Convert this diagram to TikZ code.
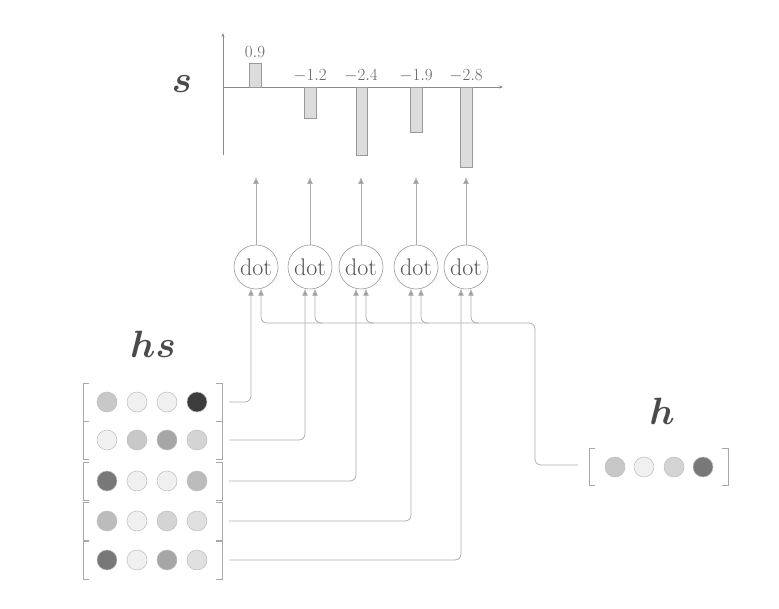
\RequirePackage{fix-cm}
\documentclass[tikz,border=0pt]{standalone}
\usepackage{amsmath,bm}
\usetikzlibrary{arrows.meta}
\definecolor{textgray}{HTML}{555555}
\definecolor{labgray}{HTML}{666666}
\definecolor{titlegray}{HTML}{4A4A4A}
\definecolor{linegray}{HTML}{AEAEAE}
\definecolor{tipgray}{HTML}{9A9A9A}
\definecolor{axisgray}{HTML}{8A8A8A}
\definecolor{bargray}{HTML}{999999}
\definecolor{barfill}{HTML}{DCDCDC}
\definecolor{ballborder}{HTML}{BDBDBD}
\definecolor{brgray}{HTML}{A8A8A8}
\definecolor{cA}{HTML}{C8C8C8}
\definecolor{cB}{HTML}{F0F0F0}
\definecolor{cC}{HTML}{D4D4D4}
\definecolor{cD}{HTML}{A6A6A6}
\definecolor{cE}{HTML}{787878}
\definecolor{cF}{HTML}{3C3C3C}
\definecolor{cG}{HTML}{BCBCBC}
\definecolor{cH}{HTML}{E0E0E0}
\begin{document}
\begin{tikzpicture}[x=1pt,y=-1pt,
  conn/.style={draw=linegray, line width=0.8pt, rounded corners=6pt},
  arr/.style={conn, -{Latex[length=7pt,width=6pt,fill=tipgray]}},
  axis/.style={draw=axisgray, line width=0.6pt, -{Stealth[length=4pt,width=3pt]}},
  dotnode/.style={circle, draw=tipgray, line width=0.6pt, minimum size=44pt, inner sep=0pt,
     font=\fontsize{24}{26}\selectfont, text=textgray},
  ball/.style={circle, draw=ballborder, line width=0.5pt, minimum size=20pt, inner sep=0pt},
  bar/.style={draw=bargray, fill=barfill, line width=0.6pt},
  vallab/.style={text=labgray, font=\fontsize{17}{19}\selectfont, inner sep=0pt},
  title/.style={text=titlegray, font=\fontsize{38}{42}\selectfont, inner sep=0pt},
  brack/.style={draw=brgray, line width=0.7pt}
]
\useasboundingbox (0,0) rectangle (779,609);

% ---- bar chart ----
\draw[axis] (223,155) -- (223,33);
\draw[axis] (223,87) -- (503,87);
\draw[bar] (249,63) rectangle (261,87);
\draw[bar] (304,87) rectangle (316,118);
\draw[bar] (356,87) rectangle (367,155);
\draw[bar] (410,87) rectangle (422,132);
\draw[bar] (460,87) rectangle (472,167);
\node[vallab] (v1) at (255,52) {$0.9$};
\node[vallab] (v2) at (310,76) {$-1.2$};
\node[vallab] (v3) at (361,76) {$-2.4$};
\node[vallab] (v4) at (416,76) {$-1.9$};
\node[vallab] (v5) at (466,76) {$-2.8$};
\node[title] (slab) at (182,84) {$\boldsymbol{s}$};

% ---- dot nodes ----
\node[dotnode] (d1) at (256,267) {dot};
\node[dotnode] (d2) at (310,267) {dot};
\node[dotnode] (d3) at (361,267) {dot};
\node[dotnode] (d4) at (416,267) {dot};
\node[dotnode] (d5) at (466,267) {dot};
\coordinate (t1) at (256,177);
\coordinate (t2) at (310,177);
\coordinate (t3) at (361,177);
\coordinate (t4) at (416,177);
\coordinate (t5) at (466,177);
\foreach \i in {1,...,5} { \draw[arr] (d\i.north) -- (t\i); }

% ---- hs matrix ----
\node[title] (hslab) at (153,344) {$\boldsymbol{hs}$};
\foreach \y/\a/\b/\c/\d [count=\k] in {402/cA/cB/cB/cF, 440/cB/cA/cD/cC, 481/cE/cB/cB/cG, 521/cG/cB/cC/cH, 560/cE/cB/cD/cH} {
  \draw[brack] (89,\y-19) -- (83,\y-19) -- (83,\y+19) -- (89,\y+19);
  \draw[brack] (216,\y-19) -- (222,\y-19) -- (222,\y+19) -- (216,\y+19);
  \node[ball, fill=\a] (m\k a) at (107,\y) {};
  \node[ball, fill=\b] (m\k b) at (137,\y) {};
  \node[ball, fill=\c] (m\k c) at (167,\y) {};
  \node[ball, fill=\d] (m\k d) at (197,\y) {};
  \coordinate (s\k) at (229,\y);
}

% ---- h vector ----
\node[title] (hlab) at (662,411) {$\boldsymbol{h}$};
\draw[brack] (595,448) -- (589,448) -- (589,485) -- (595,485);
\draw[brack] (722,448) -- (728,448) -- (728,485) -- (722,485);
\node[ball, fill=cA] (ha) at (615,467) {};
\node[ball, fill=cB] (hb) at (644,467) {};
\node[ball, fill=cC] (hc) at (674,467) {};
\node[ball, fill=cE] (hd) at (703,467) {};
\coordinate (hstart) at (578,465);
\coordinate (hbend) at (535,323);

% ---- connectors hs -> dot ----
\foreach \k in {1,...,5} {
  \draw[arr] (s\k) -| (d\k.-103);
}
% ---- connectors h -> dot ----
\draw[arr] (hstart) -| (hbend) -| (d1.-77);
\foreach \k/\x in {2/323,3/374,4/429,5/479} {
  \coordinate (j\k) at (\x,323);
  \draw[arr] (j\k) -| (d\k.-77);
}
\end{tikzpicture}
\end{document}
